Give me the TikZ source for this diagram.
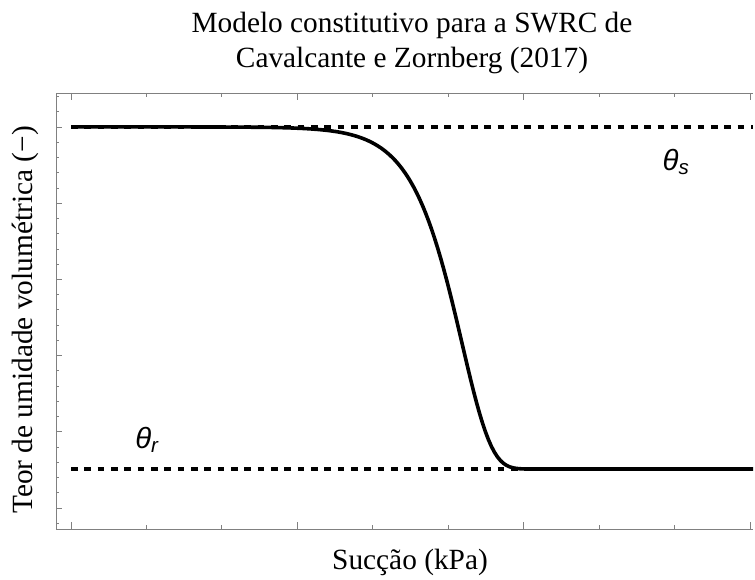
\documentclass[tikz,border=0pt]{standalone}
\usepackage{fontspec}
\setmainfont{Liberation Serif}
\newfontfamily\thetafont{Liberation Sans}
\usetikzlibrary{calc}

\begin{document}
\begin{tikzpicture}[
        x=0.75pt, y=-0.75pt,
        frame/.style={gray, line width=0.6pt},
        curve/.style={line width=2.7pt, line join=round},
        level/.style={line width=2.9pt, dash pattern=on 5pt off 5pt},
        label/.style={font=\fontsize{22}{26}\selectfont},
        greek/.style={font=\thetafont\itshape\fontsize{22}{26}\selectfont},
    ]
    \useasboundingbox (0,0) rectangle (755,580);

    % frame and ticks
    \draw[frame] (753,93) -- (56,93) -- (56,529) -- (753,529);
    \foreach \i in {0,...,9} {
        \pgfmathsetmacro{\tx}{71+75.44*\i}
        \pgfmathsetmacro{\tl}{mod(\i,3)==0 ? 7 : 4}
        \draw[frame] (\tx,529) -- ++(0,-\tl);
        \draw[frame] (\tx,93) -- ++(0,\tl);
    }
    \foreach \j in {-2,...,26} {
        \pgfmathsetmacro{\ty}{127+15.24*\j}
        \pgfmathsetmacro{\tl}{mod(\j,5)==0 ? 6 : 3}
        \draw[frame] (56,\ty) -- ++(\tl,0);
    }

    % saturated and residual levels
    \draw[level] (71,127) -- (753,127);
    \draw[level] (71,469) -- (753,469);

    % retention curve
    \draw[curve] plot[domain=71:545, samples=160]
        (\x, {127+342*(1-exp(-exp(0.034*(\x-462))))}) -- (753,469);

    \node[greek] (thetas) at (676,162) {θ\textsubscript{s}};
    \node[greek] (thetar) at (147,440) {θ\textsubscript{r}};

    \node[label, align=center] (title) at (412,43)
        {Modelo constitutivo para a SWRC de\\Cavalcante e Zornberg (2017)};
    \node[label] (xlabel) at (410,562) {Sucção (kPa)};
    \node[label, rotate=90] (ylabel) at (25,320) {Teor de umidade volumétrica (−)};
\end{tikzpicture}
\end{document}
